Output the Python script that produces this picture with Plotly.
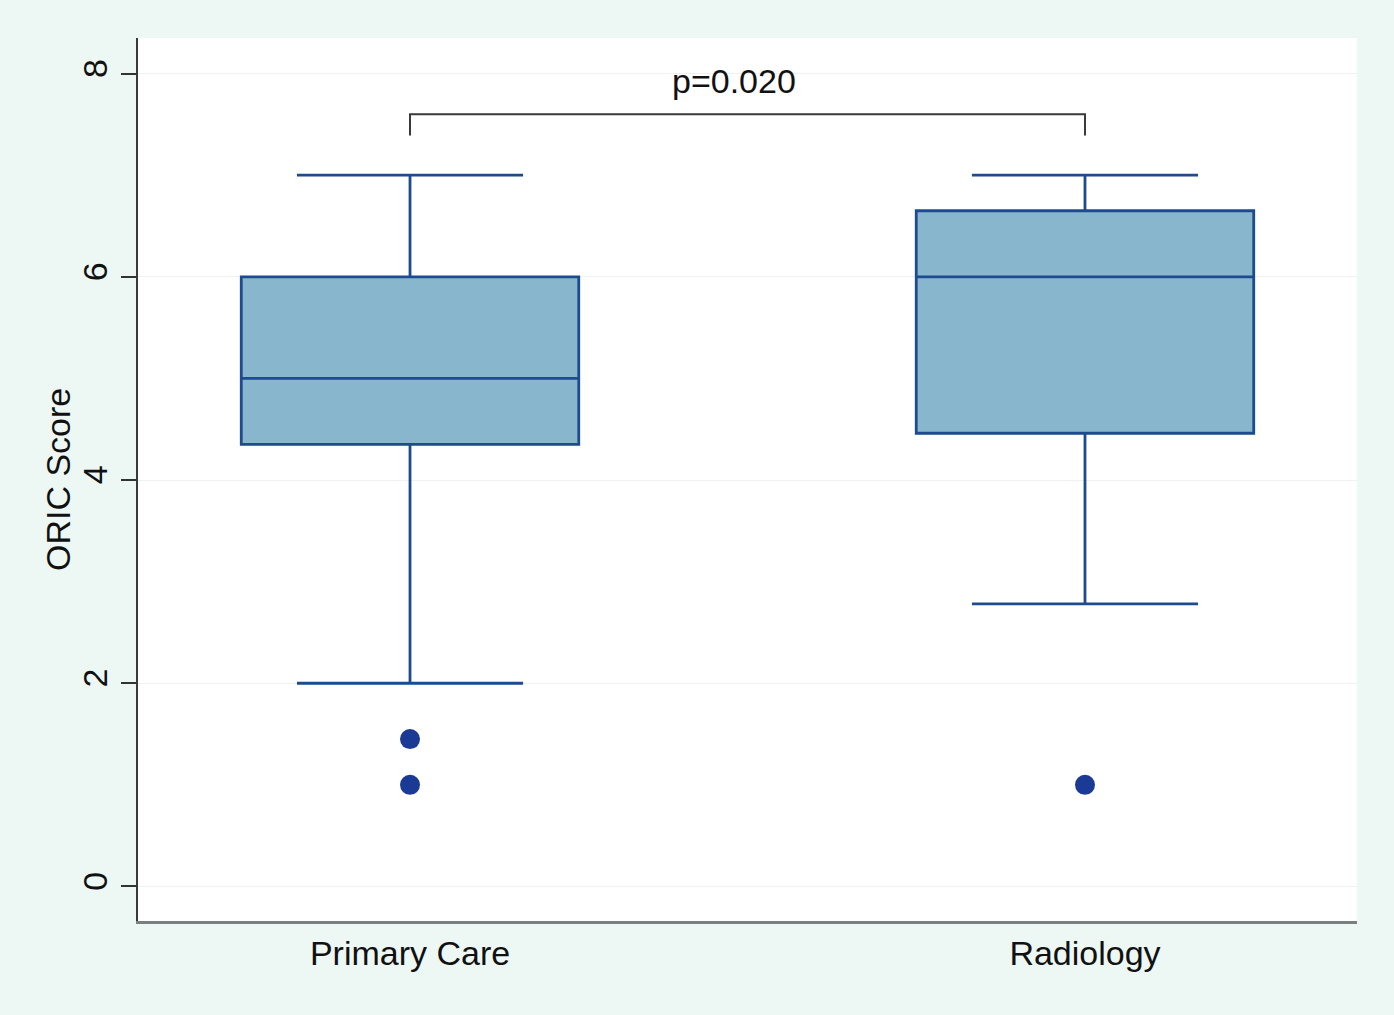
import plotly.graph_objects as go

categories = ["Primary Care", "Radiology"]
positions = [0, 1]
q1 = [4.35, 4.46]
median = [5.0, 6.0]
q3 = [6.0, 6.65]
lower_whisker = [2.0, 2.78]
upper_whisker = [7.0, 7.0]
outliers = {"Primary Care": [1.45, 1.0], "Radiology": [1.0]}
p_label = "p=0.020"
y_title = "ORIC Score"
bracket_top = 7.6
bracket_bottom = 7.39
p_label_y = 7.93

box_fill = "#88b7cd"
box_line = "#1d4b8f"
point_color = "#1a3a96"
font_family = "Liberation Sans, Arial, Helvetica, sans-serif"
bg = "#edf8f5"

fig = go.Figure()
fig.add_trace(go.Box(
    x=positions, q1=q1, median=median, q3=q3,
    lowerfence=lower_whisker, upperfence=upper_whisker,
    fillcolor=box_fill, line=dict(color=box_line, width=2.8),
    width=0.5, whiskerwidth=0.67, boxpoints=False, showlegend=False,
    hoverinfo="skip",
))
for pos, cat in zip(positions, categories):
    vals = outliers[cat]
    fig.add_trace(go.Scatter(
        x=[pos] * len(vals), y=vals, mode="markers",
        marker=dict(size=20, color=point_color), showlegend=False,
    ))

fig.add_trace(go.Scatter(
    x=[positions[0], positions[0], positions[1], positions[1]],
    y=[bracket_bottom, bracket_top, bracket_top, bracket_bottom],
    mode="lines", line=dict(color="#3a3a3a", width=2), showlegend=False,
))
fig.add_annotation(x=0.48, y=p_label_y, text=p_label, showarrow=False,
                   font=dict(size=34, color="#111111", family=font_family),
                   xref="x", yref="y")
fig.add_annotation(x=0, xref="paper", xshift=-80, xanchor="center",
                   y=4, yref="y", yanchor="middle",
                   text=y_title, textangle=-90, showarrow=False,
                   font=dict(size=34, color="#111111", family=font_family))

fig.update_layout(
    width=1394, height=1015,
    paper_bgcolor=bg, plot_bgcolor="#ffffff",
    margin=dict(l=138, r=37, t=38, b=94),
    font=dict(family=font_family, size=34, color="#111111"),
    xaxis=dict(
        range=[-0.403, 1.403], tickvals=positions, ticktext=categories,
        showgrid=False, zeroline=False, showline=True, linecolor="#7a7f7f",
        linewidth=3, ticks="", tickfont=dict(size=34), mirror=False,
    ),
    yaxis=dict(
        range=[-0.34, 8.35], tickvals=[0, 2, 4, 6, 8], tickangle=-90,
        showgrid=True, gridcolor="#f0f2f2", gridwidth=1, zeroline=False,
        showline=True, linecolor="#3a3a3a", linewidth=2,
        ticks="outside", ticklen=15, tickwidth=2, tickcolor="#333333",
        tickfont=dict(size=34),
    ),
)
fig.write_html(
    "out.html",
    config={"displayModeBar": False},
    post_script="document.body.style.margin='0';document.body.style.background='%s';" % bg,
)
